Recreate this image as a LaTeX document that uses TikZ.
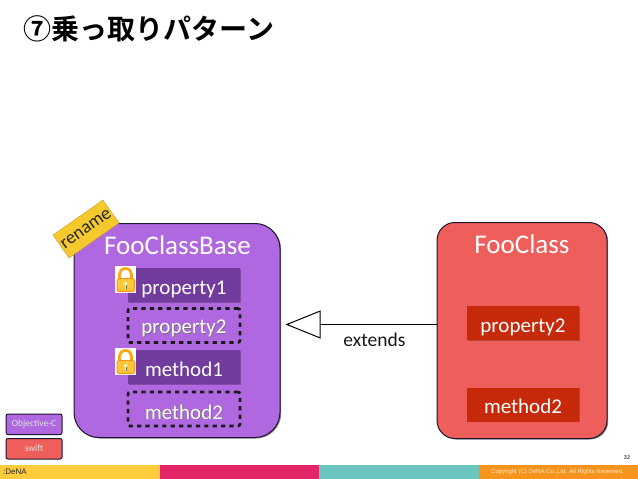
\documentclass[tikz,border=0pt]{standalone}
\usepackage{fontspec}
\setmainfont{Carlito}
\newfontfamily\cjkfont{Noto Sans CJK JP}[BoldFont={Noto Sans CJK JP Bold}]
\newfontfamily\footfont{Liberation Sans}
\usetikzlibrary{arrows.meta,shadows}
\definecolor{basepurple}{HTML}{AF68E0}
\definecolor{darkpurple}{HTML}{713C9E}
\definecolor{swiftred}{HTML}{EE5F5B}
\definecolor{darkred}{HTML}{C62A0A}
\definecolor{baryellow}{HTML}{FFCC3B}
\definecolor{barpink}{HTML}{E42568}
\definecolor{barteal}{HTML}{6CC6C0}
\definecolor{barorange}{HTML}{F7941D}
\definecolor{renameyellow}{HTML}{F5C92E}
\definecolor{outline}{HTML}{1E1430}
\tikzset{
  x=1pt,y=-1pt,
  boxat/.style={anchor=north west,inner sep=0pt,outer sep=0pt},
  classbox/.style={boxat,draw=outline,line width=1pt,
    drop shadow={shadow xshift=1.2pt,shadow yshift=-1pt,opacity=.45,fill=black}},
  memberbox/.style={boxat,minimum width=112pt,minimum height=34pt,text height=18pt,text depth=0pt,font=\fontsize{21}{21}\selectfont,text=white,
    drop shadow={shadow xshift=.6pt,shadow yshift=-.8pt,opacity=.25,fill=black}},
  dashbox/.style={boxat,minimum width=112pt,minimum height=34pt,draw=black!90,line width=2.6pt,
    dash pattern=on 4.2pt off 4.2pt,rounded corners=2pt},
  legendbox/.style={boxat,minimum width=56pt,minimum height=20.5pt,draw=outline,line width=1pt,rounded corners=2pt,
    font=\fontsize{9.5}{9.5}\selectfont,text=white!88!black},
  titletext/.style={text=white,font=\fontsize{27}{27}\selectfont},
}
\newcommand{\shadowed}[3]{%
  \node[text=black!55,font=\fontsize{21}{21}\selectfont,inner sep=0pt] at ([xshift=.8pt,yshift=-3.6pt]#1) {#3};
  \node[text=white,font=\fontsize{21}{21}\selectfont,inner sep=0pt] (#2) at ([yshift=-2.8pt]#1) {#3};}
\newcommand{\padlock}[2]{%
  \begin{scope}[shift={(#1,#2)}]
    \fill[white] (0,0) rectangle (21,27);
    \draw[line width=2.8pt,draw=barorange!80!yellow] (4.5,13) -- (4.5,8) arc[start angle=180,end angle=360,x radius=6,y radius=5.5] -- (16.5,13);
    \shade[top color=baryellow,bottom color=baryellow!80!barorange,rounded corners=1.5pt,draw=barorange,line width=1pt] (2,12.5) rectangle (19.5,25.5);
    \fill[white!85!yellow] (10.7,17.5) circle[radius=1.8];
    \fill[white!85!yellow] (10,18) rectangle (11.4,23);
    \fill[black!60] (10.9,19) rectangle (11.6,22.5);
  \end{scope}}
\begin{document}
\begin{tikzpicture}
\useasboundingbox (0,0) rectangle (638,479);
\fill[white] (0,0) rectangle (638,479);

\node[anchor=west,inner sep=0pt,font=\cjkfont\bfseries\fontsize{28}{28}\selectfont] (title) at (23.5,29) {⑦乗っ取りパターン};

% classes
\node[classbox,fill=basepurple,rounded corners=25pt,minimum width=206pt,minimum height=214pt] (base) at (74,223.5) {};
\node[classbox,fill=swiftred,rounded corners=18pt,minimum width=170pt,minimum height=216pt] (foo) at (437,222.5) {};
\node[titletext] (basetitle) at (177.5,245) {FooClassBase};
\node[titletext] (footitle) at (522,244) {FooClass};

% rename tag
\node[fill=renameyellow,draw=renameyellow!80!black,line width=.4pt,minimum width=61pt,minimum height=28pt,rotate=35,
  font=\fontsize{18.5}{18.5}\selectfont,text=black!85,inner sep=0pt] (tag) at (86,229) {rename};

% members of FooClassBase
\node[memberbox,fill=darkpurple] (prop1) at (128,268) {property1};
\node[memberbox,fill=darkpurple] (meth1) at (128,350) {method1};
\node[dashbox] (prop2box) at (128,308.5) {};
\node[dashbox] (meth2box) at (128,392) {};
\shadowed{prop2box.center}{prop2}{property2}
\shadowed{meth2box.center}{meth2}{method2}
\padlock{115}{266}
\padlock{115}{348}

% members of FooClass
\node[memberbox,fill=darkred] (fprop) at (467,306) {property2};
\node[memberbox,fill=darkred] (fmeth) at (467,387.5) {method2};

% inheritance connector
\coordinate (tip) at (285.5,324.5);
\draw[line width=1pt,black,-{Triangle[open,length=35pt,width=28pt,line width=1pt]}] (foo.west |- tip) -- (tip);
\node[font=\fontsize{19.5}{19.5}\selectfont,text=black!90] (ext) at (374.5,340) {extends};

% legend
\node[legendbox,fill=basepurple] (leg1) at (6,414) {Objective-C};
\node[legendbox,fill=swiftred] (leg2) at (6,438.5) {swift};

% footer
\fill[baryellow] (0,465) rectangle (160,478.5);
\fill[barpink] (160,465) rectangle (319,478.5);
\fill[barteal] (319,465) rectangle (478.5,478.5);
\fill[barorange] (478.5,465) rectangle (638,478.5);
\node[anchor=west,inner sep=0pt,font=\footfont\fontsize{8}{8}\selectfont,text=black!85] (logo) at (3,472) {:DeNA};
\node[inner sep=0pt,font=\footfont\bfseries\fontsize{5.5}{5.5}\selectfont,text=black!70] (pagenum) at (627,458) {32};
\node[inner sep=0pt,font=\footfont\fontsize{6}{6}\selectfont,text=white!85!orange] (copy) at (557.5,472) {Copyright (C) DeNA Co.,Ltd. All Rights Reserved.};
\end{tikzpicture}
\end{document}
